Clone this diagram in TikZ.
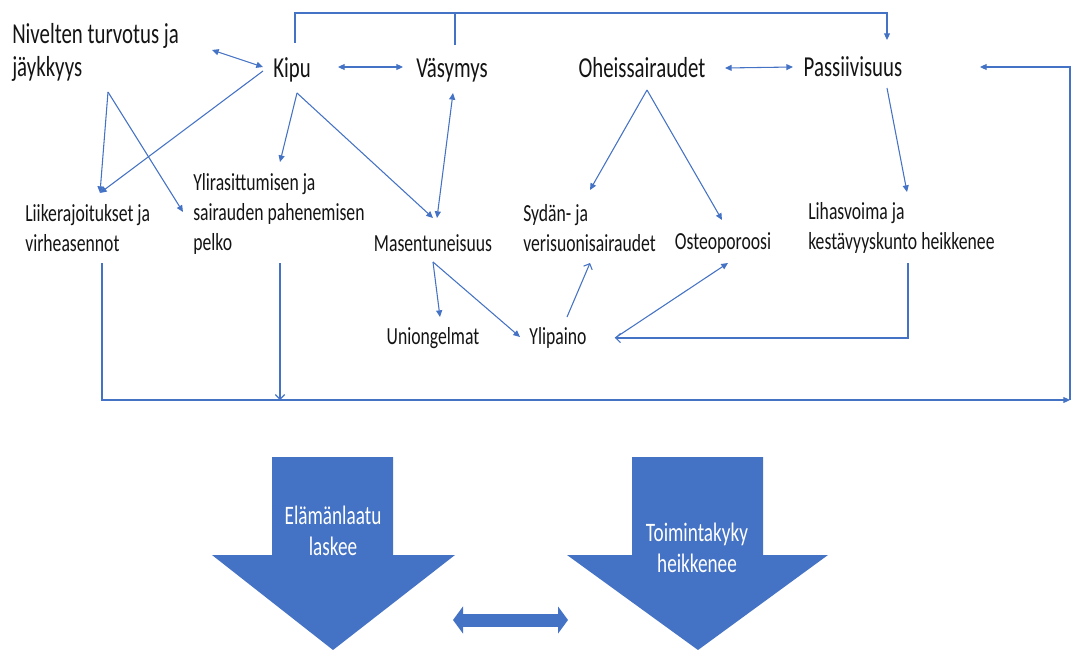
\documentclass[tikz,border=0pt]{standalone}
\usepackage{fontspec}
\setmainfont{Carlito}[FakeStretch=0.72]
\usetikzlibrary{arrows.meta,calc}
\definecolor{flowblue}{RGB}{68,114,196}
\definecolor{flowtext}{RGB}{20,20,20}

\begin{document}
\begin{tikzpicture}[
  x=0.75pt, y=-0.75pt,
  main/.style={inner sep=0pt, text=flowtext, align=left, font=\fontsize{21.7}{24.75}\selectfont},
  sub/.style={inner sep=0pt, text=flowtext, align=left, font=\fontsize{18.4}{22.5}\selectfont},
  bigtext/.style={inner sep=0pt, text=white, align=center, font=\fontsize{20}{23}\selectfont},
  plainline/.style={draw=flowblue, line width=0.8pt},
  link/.style={plainline, -{Triangle[length=5pt,width=4.5pt]}},
  twoway/.style={plainline, {Triangle[length=5pt,width=4.5pt]}-{Triangle[length=5pt,width=4.5pt]}},
  openlink/.style={plainline, -{Straight Barb[length=3.5pt,width=7pt]}},
  bigarrow/.style={fill=flowblue}
]
\useasboundingbox (0,0) rectangle (1072,650);

% Top row
\node[main, anchor=west] (niv) at (12,52) {Nivelten turvotus ja\\jäykkyys};
\node[main] (kipu) at (292,70) {Kipu};
\node[main] (vas) at (452,70) {Väsymys};
\node[main] (oheis) at (642,68) {Oheissairaudet};
\node[main] (pass) at (853,67) {Passiivisuus};

% Middle row
\node[sub, anchor=west] (liike) at (25,228) {Liikerajoitukset ja\\virheasennot};
\node[sub, anchor=west] (ylir) at (193,214) {Ylirasittumisen ja\\sairauden pahenemisen\\pelko};
\node[sub] (mas) at (433,243) {Masentuneisuus};
\node[sub, anchor=west] (syd) at (523,228) {Sydän- ja\\verisuonisairaudet};
\node[sub] (osteo) at (723,243) {Osteoporoosi};
\node[sub, anchor=west] (lihas) at (808,228) {Lihasvoima ja\\kestävyyskunto heikkenee};

% Bottom row
\node[sub] (uni) at (433,338) {Uniongelmat};
\node[sub] (ylip) at (558,338) {Ylipaino};

% Big arrows
\fill[bigarrow] (272,457) -- (393,457) -- (393,555) -- (455,555) -- (333,650) -- (212,555) -- (272,555) -- cycle;
\fill[bigarrow] (632,457) -- (763,457) -- (763,555) -- (828,555) -- (698,650) -- (567,555) -- (632,555) -- cycle;
\node[bigtext] (ela) at (333,531) {Elämänlaatu\\laskee};
\node[bigtext] (toim) at (697,548) {Toimintakyky\\heikkenee};
\draw[flowblue, line width=9.75pt, {Triangle[length=7.5pt,width=20pt]}-{Triangle[length=7.5pt,width=20pt]}]
  ($(ela)+(120,89)$) -- ($(toim)+(-129,72)$);

% Top row links
\draw[twoway] ($(niv.west)+(200,-2)$) -- ($(kipu)+(-29,-3)$);
\draw[twoway] ($(kipu)+(46,-3)$) -- ($(vas)+(-49,-3)$);
\draw[twoway] ($(oheis)+(83,0)$) -- ($(pass)+(-60,0)$);
\draw[link] ($(kipu)+(3,-27)$) -- ++(0,-30) -| ($(pass)+(34,-27)$);
\draw[plainline] ($(vas)+(3,-25)$) -- ++(0,-32);

% From top row downwards
\draw[link] ($(kipu)+(-29,1)$) -- ($(liike.west)+(75,-35)$);
\draw[link] ($(niv.west)+(96,40)$) -- ($(liike.west)+(75,-35)$);
\draw[link] ($(niv.west)+(96,40)$) -- ($(ylir.west)+(-10,-2)$);
\draw[link] ($(kipu)+(5,23)$) -- ($(ylir.west)+(87,-52)$);
\draw[link] ($(kipu)+(5,23)$) -- ($(mas)+(0,-25)$);
\draw[twoway] ($(vas)+(1,23)$) -- ($(mas)+(4,-25)$);
\draw[link] ($(oheis)+(5,22)$) -- ($(syd.west)+(67,-38)$);
\draw[link] ($(oheis)+(5,22)$) -- ($(osteo)+(-1,-23)$);
\draw[link] ($(pass)+(34,21)$) -- ($(lihas.west)+(99,-36)$);

% Lower links
\draw[link] ($(mas)+(0,19)$) -- ($(uni)+(7,-21)$);
\draw[link] ($(mas)+(0,19)$) -- ($(ylip)+(-38,-1)$);
\draw[openlink] ($(ylip)+(9,-21)$) -- ($(syd.west)+(67,35)$);
\draw[link] ($(ylip)+(57,0)$) -- ($(osteo)+(5,20)$);
\draw[openlink] ($(lihas.west)+(100,35)$) |- ($(ylip)+(57,0)$);

% Collecting line
\coordinate (edge) at (1070,400);
\draw[link] ($(liike.west)+(77,35)$) |- (edge);
\draw[openlink] ($(ylir.west)+(87,49)$) -- ($(ylir.west)+(87,186)$);
\draw[link] (edge) |- ($(pass)+(127,0)$);

\end{tikzpicture}
\end{document}
